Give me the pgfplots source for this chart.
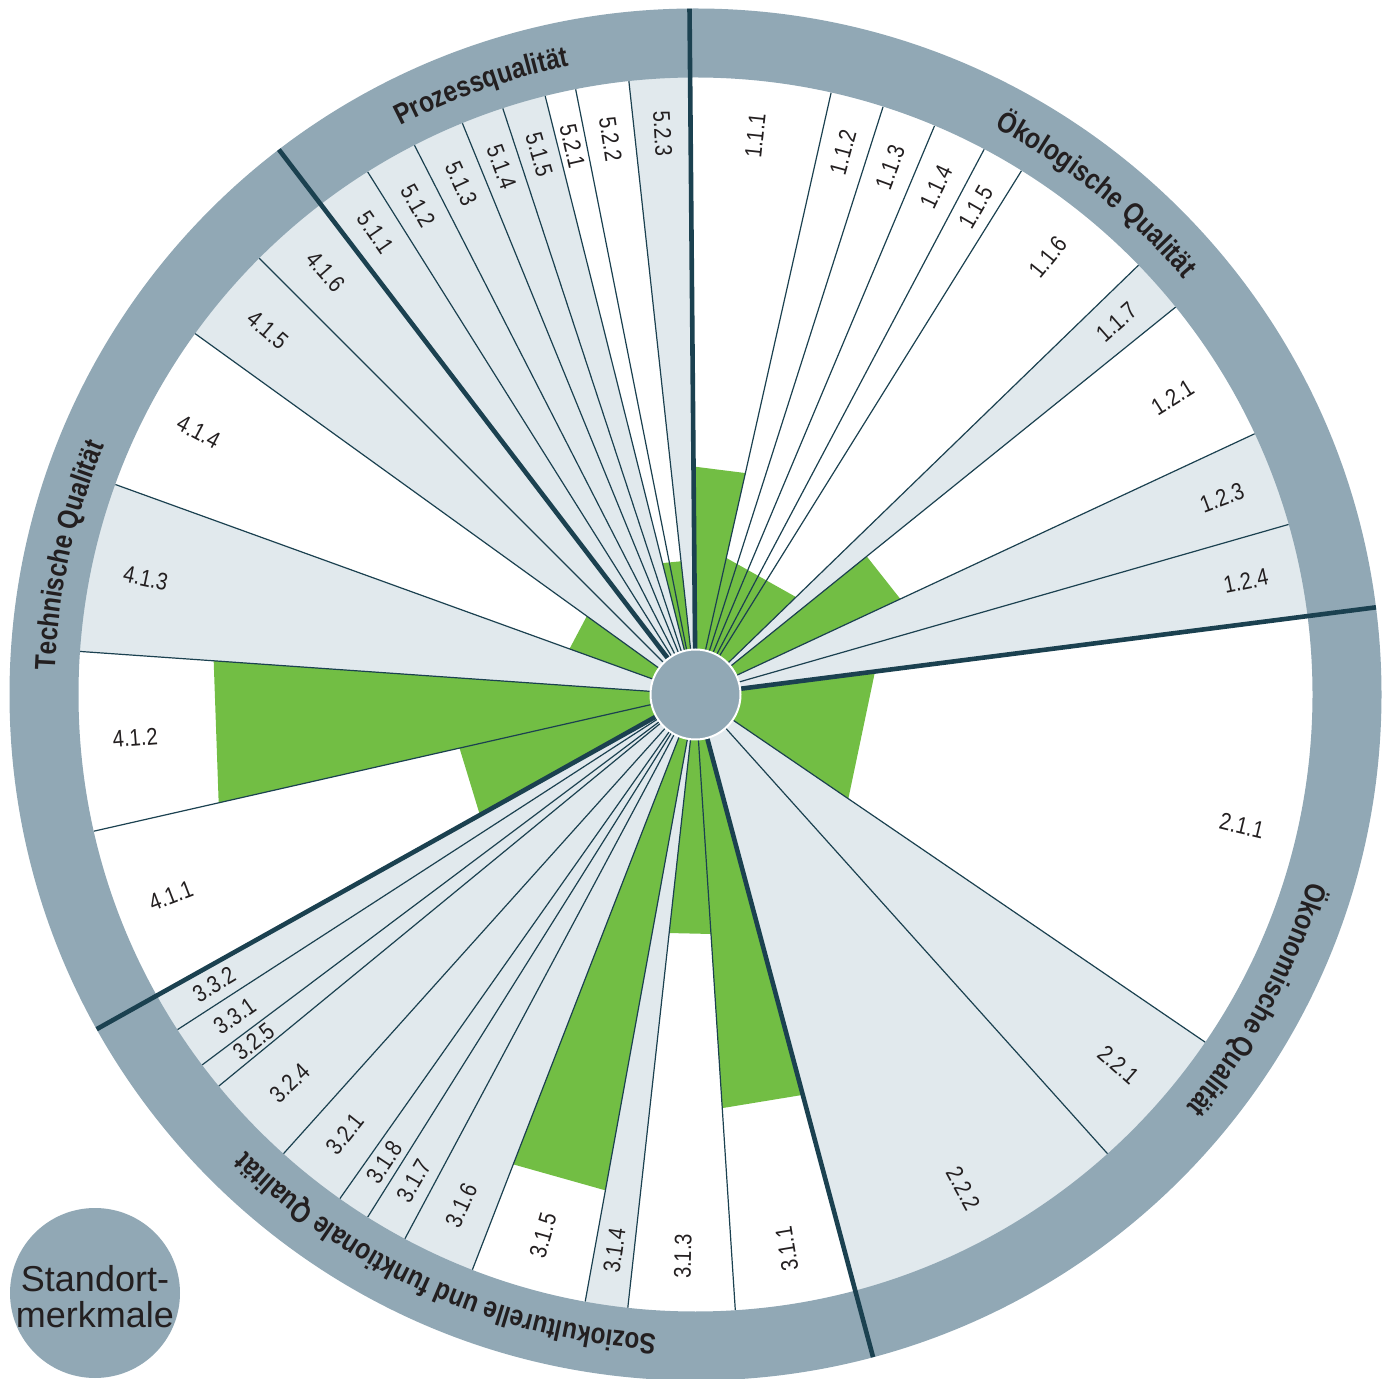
\documentclass[border=0pt]{standalone}
\usepackage{pgfplots}
\pgfplotsset{compat=1.18}
\usepackage{fontspec}
\setmainfont{Liberation Sans}
\newfontfamily\cond[FakeStretch=0.84]{Liberation Sans}
\usetikzlibrary{decorations.text}

\definecolor{ringc}{RGB}{145,168,181}
\definecolor{pale}{RGB}{225,233,237}
\definecolor{leaf}{RGB}{114,190,68}
\definecolor{ink}{RGB}{27,65,80}
\definecolor{txt}{RGB}{35,31,32}

% one px of the reference = 0.5pt, centre of the wheel at px (695.5, 694.5)
\pgfplotsset{wheel/.style={
    at={(0,0)}, anchor=south west,
    x=0.5pt, y=0.5pt,
    xmin=-695.5, xmax=692.5, ymin=-683.5, ymax=694.5,
    hide axis, clip=false}}

\newcommand{\catlabel}[2]{% centre angle, text
  \path[decorate, decoration={text along path, text align=center, text color=txt,
      text={|\cond\bfseries\fontsize{14.5}{16}\selectfont|#2}}]
    ({#1+35}:641) arc[start angle={#1+35}, end angle={#1-35}, radius=641];}

\begin{document}
\begin{tikzpicture}
\useasboundingbox (0,0) rectangle (694pt,689pt);

\begin{axis}[wheel]
% criteria without a bar (pale sectors): boundary angles, out to the ring
\addplot[fill=pale, draw=none, data cs=polar] coordinates {(0,0) (44.1,680) (38.9,680)};
\addplot[fill=pale, draw=none, data cs=polar] coordinates {(0,0) (25.0,680) (16.0,680) (7.3,680)};
\addplot[fill=pale, draw=none, data cs=polar] coordinates {(0,0) (-34.3,680) (-48.1,680) (-75.0,680)};
\addplot[fill=pale, draw=none, data cs=polar] coordinates {(0,0) (-96.3,680) (-100.3,680)};
\addplot[fill=pale, draw=none, data cs=polar] coordinates {(0,0) (-111.2,680) (-118.1,680) (-122.1,680)
    (-125.2,680) (-131.9,680) (-140.6,680) (-143.1,680) (-147.1,680) (-150.8,680)};
\addplot[fill=pale, draw=none, data cs=polar] coordinates {(0,0) (176.0,680) (160.1,680)};
\addplot[fill=pale, draw=none, data cs=polar] coordinates {(0,0) (144.2,680) (135.0,680) (127.4,680)
    (122.1,680) (117.1,680) (112.2,680) (108.2,680) (104.1,680)};
\addplot[fill=pale, draw=none, data cs=polar] coordinates {(0,0) (96.2,680) (90.5,680)};

% green bars: (angle, radius) at both edges of each bar
\addplot[fill=leaf, draw=none, data cs=polar] coordinates {(0,0) (90.5,228) (77.3,227)};
\addplot[fill=leaf, draw=none, data cs=polar] coordinates {(0,0) (77.3,140) (44.1,140)};
\addplot[fill=leaf, draw=none, data cs=polar] coordinates {(0,0) (38.9,220) (25.0,226)};
\addplot[fill=leaf, draw=none, data cs=polar] coordinates {(0,0) (7.3,181) (-34.3,185)};
\addplot[fill=leaf, draw=none, data cs=polar] coordinates {(0,0) (-75.0,414.5) (-86.3,414.5)};
\addplot[fill=leaf, draw=none, data cs=polar] coordinates {(0,0) (-86.3,240) (-96.3,240)};
\addplot[fill=leaf, draw=none, data cs=polar] coordinates {(0,0) (-100.3,504) (-111.2,504)};
\addplot[fill=leaf, draw=none, data cs=polar] coordinates {(0,0) (209.2,247) (192.8,242)};
\addplot[fill=leaf, draw=none, data cs=polar] coordinates {(0,0) (192.8,489) (176.0,483)};
\addplot[fill=leaf, draw=none, data cs=polar] coordinates {(0,0) (160.1,134) (144.2,134)};
\addplot[fill=leaf, draw=none, data cs=polar] coordinates {(0,0) (104.1,135.5) (96.2,134)};

% thin borders between criteria
\pgfplotsinvokeforeach{77.3,72.3,67.2,62.1,58.1,44.1,38.9,25.0,16.0,-34.3,-48.1,
    -86.3,-96.3,-100.3,-111.2,-118.1,-122.1,-125.2,-131.9,-140.6,-143.1,-147.1,
    192.8,176.0,160.1,144.2,135.0,122.1,117.1,112.2,108.2,104.1,101.2,96.2}{
  \addplot[ink, line width=0.6pt, data cs=polar] coordinates {(#1,0) (#1,617)};
}
\end{axis}

% the ring with the five groups
\begin{scope}[shift={(347.75pt,341.75pt)}, x=0.5pt, y=0.5pt]
  \fill[ringc, even odd rule] (0,0) circle[radius=686] (0,0) circle[radius=617];
\end{scope}

\begin{axis}[wheel]
\pgfplotsinvokeforeach{90.5,7.3,-75.0,-150.8,127.4}{
  \addplot[ink, line width=2.3pt, data cs=polar] coordinates {(#1,0) (#1,686)};
}
\end{axis}

\begin{scope}[shift={(347.75pt,341.75pt)}, x=0.5pt, y=0.5pt]
  \fill[ringc, draw=white, line width=1pt] (0,0) circle[radius=45];
  \foreach \a/\t in {83.9/1.1.1, 74.8/1.1.2, 69.75/1.1.3, 64.65/1.1.4, 60.1/1.1.5,
      51.1/1.1.6, 41.5/1.1.7, 31.95/1.2.1, 20.5/1.2.3, 11.65/1.2.4,
      -13.5/2.1.1, -41.2/2.2.1, -61.55/2.2.2}
    \node[rotate=\a, text=txt, font=\cond\fontsize{12}{13}\selectfont] at (\a:562) {\t};
  \foreach \a/\t in {-80.65/3.1.1, -91.3/3.1.3, -98.3/3.1.4, -105.75/3.1.5, -114.65/3.1.6,
      -120.1/3.1.7, -123.65/3.1.8, -128.55/3.2.1, -136.25/3.2.4, -141.85/3.2.5,
      -145.1/3.3.1, -148.95/3.3.2, 201/4.1.1, 184.4/4.1.2, 168.05/4.1.3, 152.15/4.1.4,
      139.6/4.1.5, 131.2/4.1.6, 124.75/5.1.1, 119.6/5.1.2, 114.65/5.1.3, 110.2/5.1.4,
      106.15/5.1.5, 102.65/5.2.1, 98.7/5.2.2, 93.35/5.2.3}
    \node[rotate={\a+180}, text=txt, font=\cond\fontsize{12}{13}\selectfont] at (\a:562) {\t};
  \catlabel{109.4}{Prozessqualität}
  \catlabel{51.3}{Ökologische Qualität}
  \catlabel{-28.5}{Ökonomische Qualität}
  \catlabel{-114}{Soziokulturelle und funktionale Qualität}
  \catlabel{167.5}{Technische Qualität}
\end{scope}

\fill[ringc] (47.5pt,42.5pt) circle[radius=42.5pt];
\node[align=center, text=txt, font=\fontsize{18}{18}\selectfont] at (47.5pt,40.75pt) {Standort-\\merkmale};
\end{tikzpicture}
\end{document}
